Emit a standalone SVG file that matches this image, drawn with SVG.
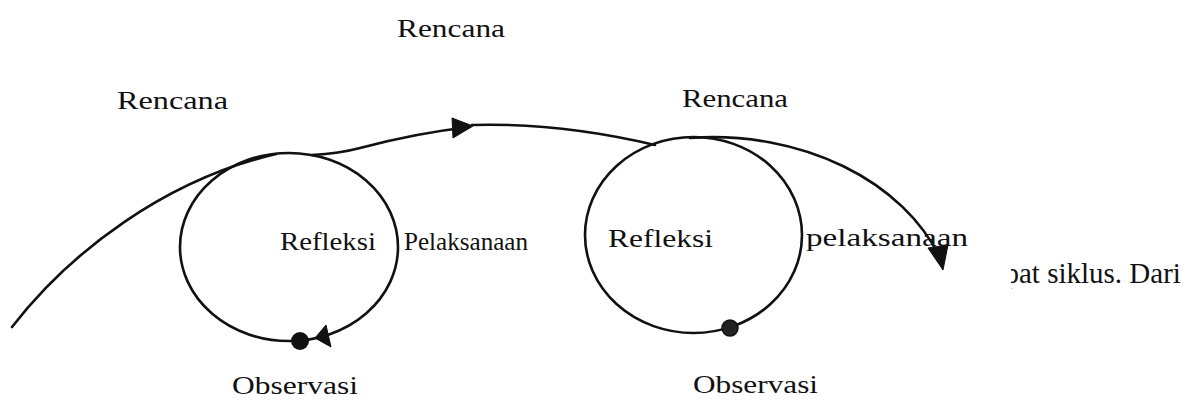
<svg xmlns="http://www.w3.org/2000/svg" width="1193" height="401" viewBox="0 0 1193 401">
  <defs>
    <style>
      .lbl { font-family: "Liberation Serif", "Times New Roman", serif; font-size: 26px; fill: #111; }
      .body { font-family: "Liberation Serif", "Times New Roman", serif; font-size: 29px; fill: #111; }
      .ln { fill: none; stroke: #111; stroke-width: 2.6; stroke-linecap: round; }
      .head { fill: #111; stroke: #111; stroke-width: 1; stroke-linejoin: round; }
    </style>
    <clipPath id="cut">
      <rect x="1011" y="240" width="182" height="60"/>
    </clipPath>
  </defs>
  <rect width="1193" height="401" fill="#fff"/>

  <g id="connectors">
    <path class="ln" d="M12,327 C 70,252 165,180 276,154"/>
    <path class="ln" d="M312,155 C 330,154 345,152 360,148 C 390,140 425,132 470,127"/>
    <polygon class="head" points="452,118 473,126 453,138"/>
    <path class="ln" d="M472,125 C 540,123 600,132 655,145"/>
    <path class="ln" d="M690,138 C 800,130 905,180 942,262"/>
    <polygon class="head" points="928,248 948,245 943,270"/>
  </g>

  <g id="cycle1">
    <ellipse class="ln" cx="289" cy="247" rx="109" ry="94"/>
    <circle cx="300" cy="341" r="9" fill="#111"/>
    <polygon class="head" points="315,338 326,325 331,347"/>
  </g>

  <g id="cycle2">
    <ellipse class="ln" cx="693.5" cy="235" rx="108.5" ry="98"/>
    <circle cx="730" cy="328" r="8" fill="#222" stroke="#111" stroke-width="1.5"/>
  </g>

  <g id="label-rencana-top"><text class="lbl" x="397" y="37" textLength="108" lengthAdjust="spacingAndGlyphs">Rencana</text></g>
  <g id="label-rencana-left"><text class="lbl" x="117" y="109" textLength="111" lengthAdjust="spacingAndGlyphs">Rencana</text></g>
  <g id="label-rencana-right"><text class="lbl" x="682" y="107" textLength="106" lengthAdjust="spacingAndGlyphs">Rencana</text></g>
  <g id="label-refleksi-1"><text class="lbl" x="280" y="250" textLength="96" lengthAdjust="spacingAndGlyphs">Refleksi</text></g>
  <g id="label-pelaksanaan-1"><text class="lbl" x="404" y="250" textLength="124" lengthAdjust="spacingAndGlyphs">Pelaksanaan</text></g>
  <g id="label-refleksi-2"><text class="lbl" x="608" y="247" textLength="105" lengthAdjust="spacingAndGlyphs">Refleksi</text></g>
  <g id="label-pelaksanaan-2"><text class="lbl" x="806" y="246" textLength="162" lengthAdjust="spacingAndGlyphs">pelaksanaan</text></g>
  <g id="label-observasi-1"><text class="lbl" x="232" y="394" textLength="126" lengthAdjust="spacingAndGlyphs">Observasi</text></g>
  <g id="label-observasi-2"><text class="lbl" x="693" y="393" textLength="125" lengthAdjust="spacingAndGlyphs">Observasi</text></g>

  <g id="body-text" clip-path="url(#cut)">
    <text class="body" x="1004.5" y="283">pat siklus. Dari</text>
  </g>
</svg>
